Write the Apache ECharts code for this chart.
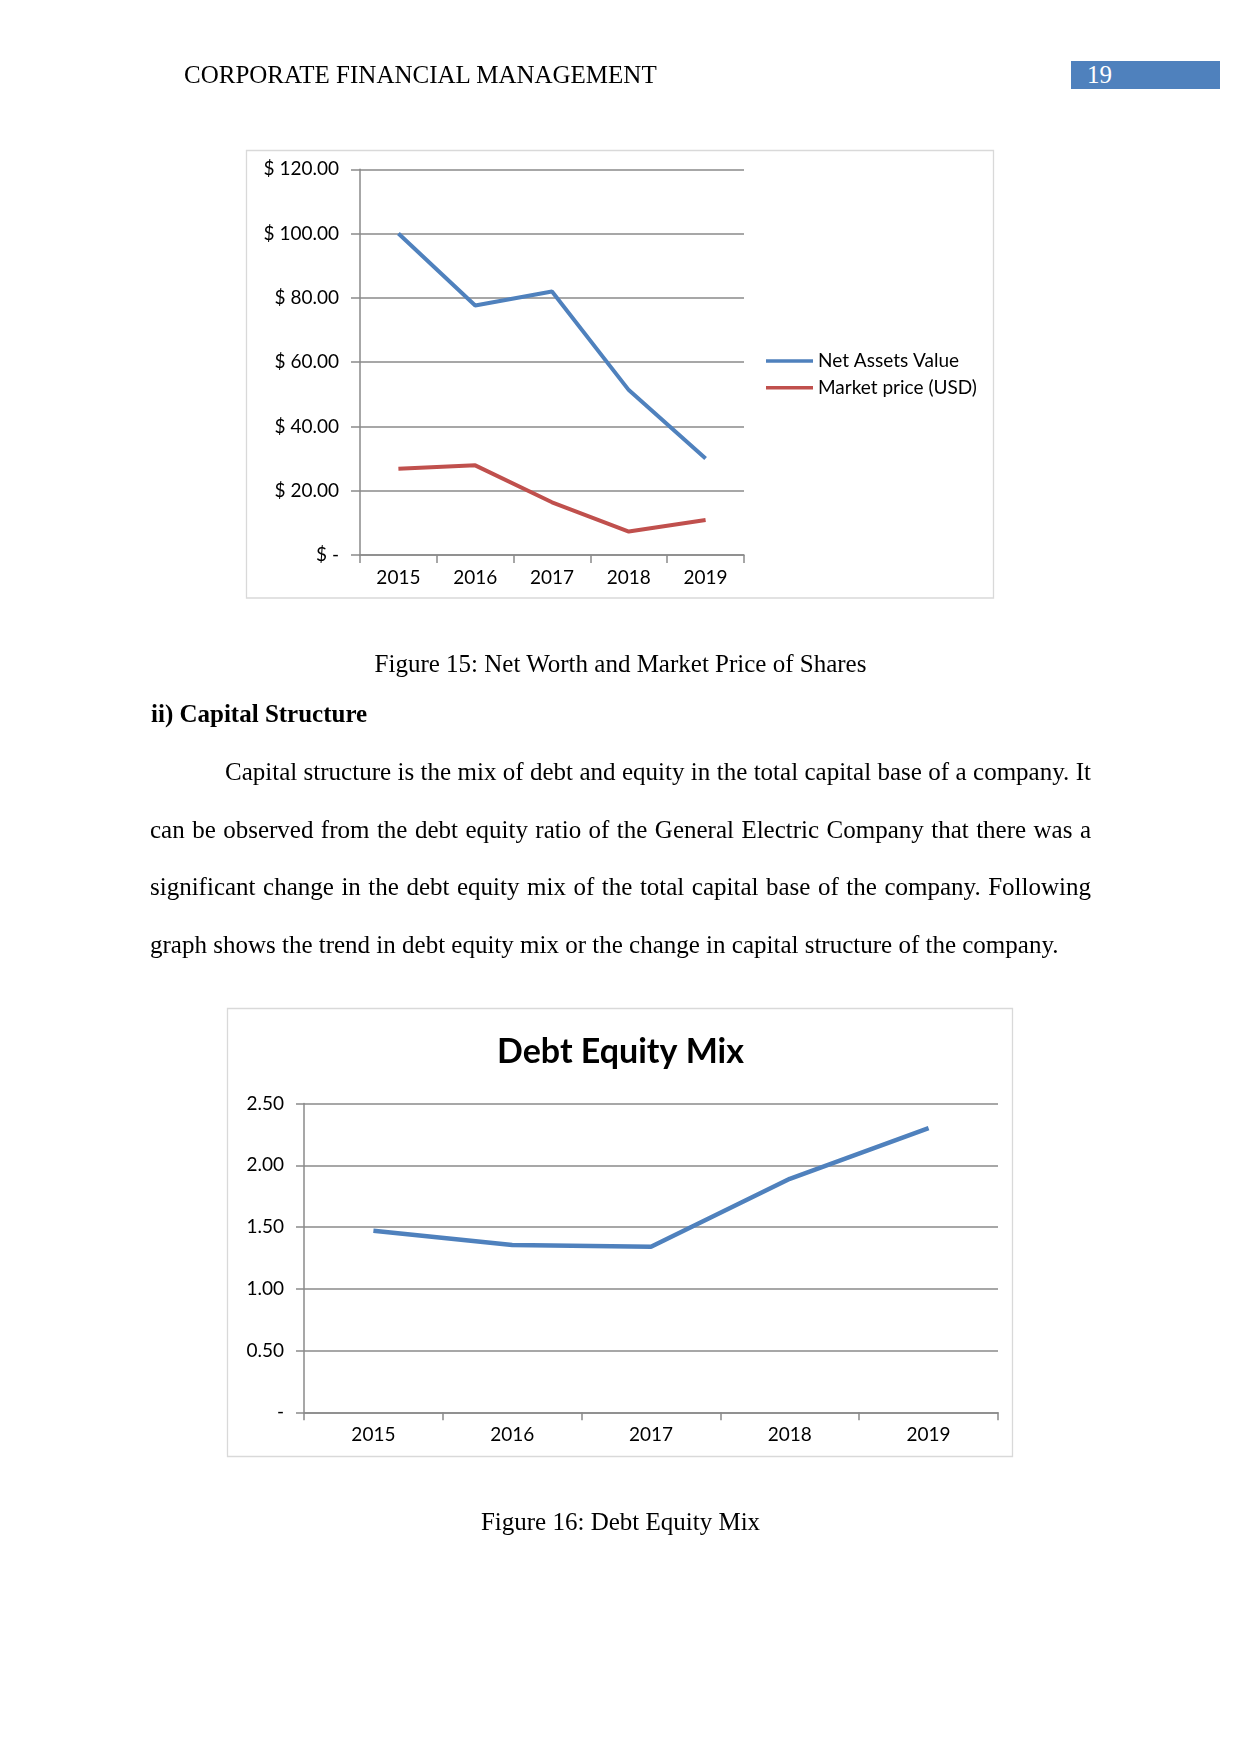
<!DOCTYPE html>
<html>
<head>
<meta charset="utf-8">
<script src="https://cdn.jsdelivr.net/npm/echarts@6/dist/echarts.min.js"></script>
<style>
  html, body { margin: 0; padding: 0; background: #fff; }
  #page { position: relative; width: 1241px; height: 1754px; overflow: hidden; }
  #chart { position: absolute; left: 0; top: 0; width: 1241px; height: 1754px; }
  .t { position: absolute; font-family: "Liberation Serif", "Times New Roman", serif; font-size: 25px; line-height: 25px; color: #000; white-space: nowrap; }
  .j { text-align: justify; text-align-last: justify; white-space: normal; }
  .c { text-align: center; }
  #pnum { position: absolute; left: 1071px; top: 61px; width: 149px; height: 28px; background: #4F81BD; }
</style>
</head>
<body>
<div id="page">
  <div id="chart"></div>
  <div class="t" style="left:184px; top:62.4px;">CORPORATE FINANCIAL MANAGEMENT</div>
  <div id="pnum"></div>
  <div class="t" style="left:1087px; top:61.8px; color:#fff;">19</div>
  <div class="t c" style="left:150px; width:941px; top:651px;">Figure 15: Net Worth and Market Price of Shares</div>
  <div class="t" style="left:151px; top:700.8px; font-weight:bold;">ii) Capital Structure</div>
  <div class="t j" style="left:225px; width:866px; top:759.1px;">Capital structure is the mix of debt and equity in the total capital base of a company. It</div>
  <div class="t j" style="left:150px; width:941px; top:816.6px;">can be observed from the debt equity ratio of the General Electric Company that there was a</div>
  <div class="t j" style="left:150px; width:941px; top:874.1px;">significant change in the debt equity mix of the total capital base of the company. Following</div>
  <div class="t" style="left:150px; top:931.6px;">graph shows the trend in debt equity mix or the change in capital structure of the company.</div>
  <div class="t c" style="left:150px; width:941px; top:1509px;">Figure 16: Debt Equity Mix</div>
</div>
<script>
// ---- data ----
const years = ['2015', '2016', '2017', '2018', '2019'];
const netAssetsValue = [100, 77.6, 82, 51.3, 30];
const marketPrice = [26.8, 27.9, 16.4, 7.3, 10.9];
const debtEquityMix = [1.47, 1.355, 1.34, 1.89, 2.30];
const seriesNames = ['Net Assets Value', 'Market price (USD)'];
const chart2Title = 'Debt Equity Mix';

const AX = '#8A8A8A';
const LW = 1.5;
const F = 'Lato';
const FS = 19;
const chart = echarts.init(document.getElementById('chart'), null, { renderer: 'canvas' });

function catAxis(gi) {
  return {
    type: 'category', gridIndex: gi, data: years, boundaryGap: true,
    axisLine: { show: true, lineStyle: { color: AX, width: LW } },
    axisTick: { show: true, length: 8, lineStyle: { color: AX, width: LW } },
    axisLabel: { margin: 13, fontSize: FS, fontFamily: F, color: '#000' },
    splitLine: { show: false }
  };
}

chart.setOption({
  animation: false,
  title: {
    text: chart2Title, left: 'center', top: 1035, padding: 0,
    textStyle: { fontFamily: F, fontSize: 34, fontWeight: 'bold', color: '#000', lineHeight: 34 }
  },
  legend: {
    data: seriesNames, orient: 'vertical', left: 766, top: 351, padding: 0,
    icon: 'rect', itemWidth: 47, itemHeight: 3.5, itemGap: 6.7,
    textStyle: { fontFamily: F, fontSize: FS, color: '#000', lineHeight: 20 }
  },
  graphic: [
    { type: 'rect', shape: { x: 246.5, y: 150.5, width: 747, height: 447.5 }, style: { fill: 'none', stroke: '#D9D9D9', lineWidth: 1.3 }, z: -1 },
    { type: 'rect', shape: { x: 227.5, y: 1008.5, width: 785, height: 448 }, style: { fill: 'none', stroke: '#D9D9D9', lineWidth: 1.3 }, z: -1 }
  ],
  grid: [
    { left: 360, top: 169.3, width: 384, height: 385.7 },
    { left: 304, top: 1103.5, width: 694, height: 308.8 }
  ],
  xAxis: [catAxis(0), catAxis(1)],
  yAxis: [
    {
      type: 'value', gridIndex: 0, min: 0, max: 120, interval: 20,
      axisLine: { show: true, lineStyle: { color: AX, width: LW } },
      axisTick: { show: true, length: 9, lineStyle: { color: AX, width: LW } },
      splitLine: { show: true, lineStyle: { color: AX, width: LW } },
      axisLabel: { margin: 21, fontSize: FS, fontFamily: F, color: '#000',
        formatter: v => v === 0 ? '$ -' : '$ ' + v.toFixed(2) }
    },
    {
      type: 'value', gridIndex: 1, min: 0, max: 2.5, interval: 0.5,
      axisLine: { show: true, lineStyle: { color: AX, width: LW } },
      axisTick: { show: true, length: 8, lineStyle: { color: AX, width: LW } },
      splitLine: { show: true, lineStyle: { color: AX, width: LW } },
      axisLabel: { margin: 20, fontSize: FS, fontFamily: F, color: '#000',
        formatter: v => v === 0 ? '-' : v.toFixed(2) }
    }
  ],
  series: [
    { name: seriesNames[0], type: 'line', xAxisIndex: 0, yAxisIndex: 0, data: netAssetsValue,
      symbol: 'none', color: '#4F81BD', lineStyle: { width: 4, color: '#4F81BD' } },
    { name: seriesNames[1], type: 'line', xAxisIndex: 0, yAxisIndex: 0, data: marketPrice,
      symbol: 'none', color: '#C0504D', lineStyle: { width: 4, color: '#C0504D' } },
    { name: chart2Title, type: 'line', xAxisIndex: 1, yAxisIndex: 1, data: debtEquityMix,
      symbol: 'none', color: '#4F81BD', lineStyle: { width: 4.5, color: '#4F81BD' } }
  ]
});
</script>
</body>
</html>
